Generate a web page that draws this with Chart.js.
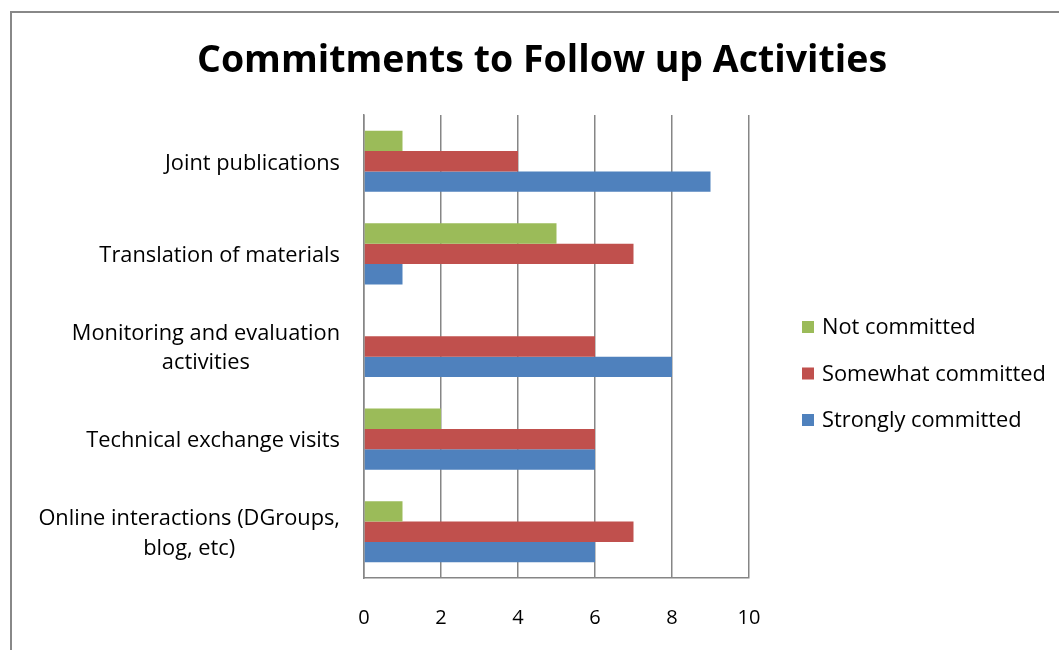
<!DOCTYPE html>
<html>
<head>
<meta charset="utf-8">
<script src="https://cdn.jsdelivr.net/npm/chart.js@4.4.0/dist/chart.umd.min.js"></script>
<style>
  html, body { margin: 0; padding: 0; background: #fff; }
  #kutu { position: relative; width: 1059px; height: 650px; }
  #cerceve { position: absolute; left: 10px; top: 11px; right: 0; bottom: 0;
    border-left: 2px solid #888; border-top: 2px solid #888; pointer-events: none; }
  canvas { position: absolute; left: 0; top: 0; }
</style>
</head>
<body>
<div id="kutu">
  <canvas id="grafik" width="1059" height="650"></canvas>
  <div id="cerceve"></div>
</div>
<script>
// kategoriler (yukaridan asagiya)
const kategoriler = [
  "Joint publications",
  "Translation of materials",
  ["Monitoring and evaluation", "activities"],
  "Technical exchange visits",
  ["Online interactions (DGroups,", "blog, etc)"]
];
const seriAdlari = ["Not committed", "Somewhat committed", "Strongly committed"];
const seriRenkleri = ["#9BBB59", "#C0504D", "#4F81BD"];
const notCommitted = [1, 5, 0, 2, 1];
const somewhatCommitted = [4, 7, 6, 6, 7];
const stronglyCommitted = [9, 1, 8, 6, 6];
const xTikler = [0, 2, 4, 6, 8, 10];

const baslik = "Commitments to Follow up Activities";
const yaziTipi = "'Open Sans', sans-serif";

// baslik + lejant + kategori etiketleri
const ekCizim = {
  id: "ekCizim",
  afterDraw(chart) {
    const ctx = chart.ctx;
    const y = chart.scales.y;
    ctx.save();
    ctx.fillStyle = "#000";

    // baslik
    ctx.font = "bold 37.5px " + yaziTipi;
    ctx.textAlign = "center";
    ctx.textBaseline = "middle";
    ctx.fillText(baslik, 542, 61);

    // kategori etiketleri
    ctx.font = "21.8px " + yaziTipi;
    kategoriler.forEach((lab, i) => {
      const satirlar = Array.isArray(lab) ? lab : [lab];
      const maxW = Math.max(...satirlar.map(s => ctx.measureText(s).width));
      const cx = 340 - maxW / 2;
      const py = y.getPixelForTick(i) + 2;
      satirlar.forEach((s, j) => {
        ctx.fillText(s, cx, py + (j - (satirlar.length - 1) / 2) * 29.5);
      });
    });

    // lejant
    ctx.textAlign = "left";
    seriAdlari.forEach((ad, i) => {
      const ly = 328 + i * 46.5;
      ctx.fillStyle = seriRenkleri[i];
      ctx.fillRect(802, ly - 7, 12, 12);
      ctx.fillStyle = "#000";
      ctx.fillText(ad, 822, ly);
    });
    ctx.restore();
  }
};

new Chart(document.getElementById("grafik"), {
  type: "bar",
  data: {
    labels: kategoriler,
    datasets: [
      { label: seriAdlari[0], data: notCommitted, backgroundColor: seriRenkleri[0] },
      { label: seriAdlari[1], data: somewhatCommitted, backgroundColor: seriRenkleri[1] },
      { label: seriAdlari[2], data: stronglyCommitted, backgroundColor: seriRenkleri[2] }
    ]
  },
  options: {
    indexAxis: "y",
    responsive: false,
    animation: false,
    devicePixelRatio: 1,
    layout: { padding: { left: 20, right: 310, top: 115, bottom: 0 } },
    datasets: { bar: { categoryPercentage: 0.66, barPercentage: 1 } },
    plugins: { legend: { display: false }, title: { display: false }, tooltip: { enabled: false } },
    scales: {
      x: {
        min: 0, max: 10,
        afterBuildTicks: s => { s.ticks = xTikler.map(v => ({ value: v })); },
        afterFit: s => { s.height = 72; },
        grid: { color: "#868686", lineWidth: 1.5, drawTicks: false },
        border: { color: "#868686", width: 1.5 },
        ticks: { padding: 28, color: "#000", font: { family: yaziTipi, size: 20 } }
      },
      y: {
        afterFit: s => { s.width = 344; },
        grid: { display: false, drawTicks: false },
        border: { color: "#868686", width: 1.5 },
        ticks: { display: false }
      }
    }
  },
  plugins: [ekCizim]
});
</script>
</body>
</html>
